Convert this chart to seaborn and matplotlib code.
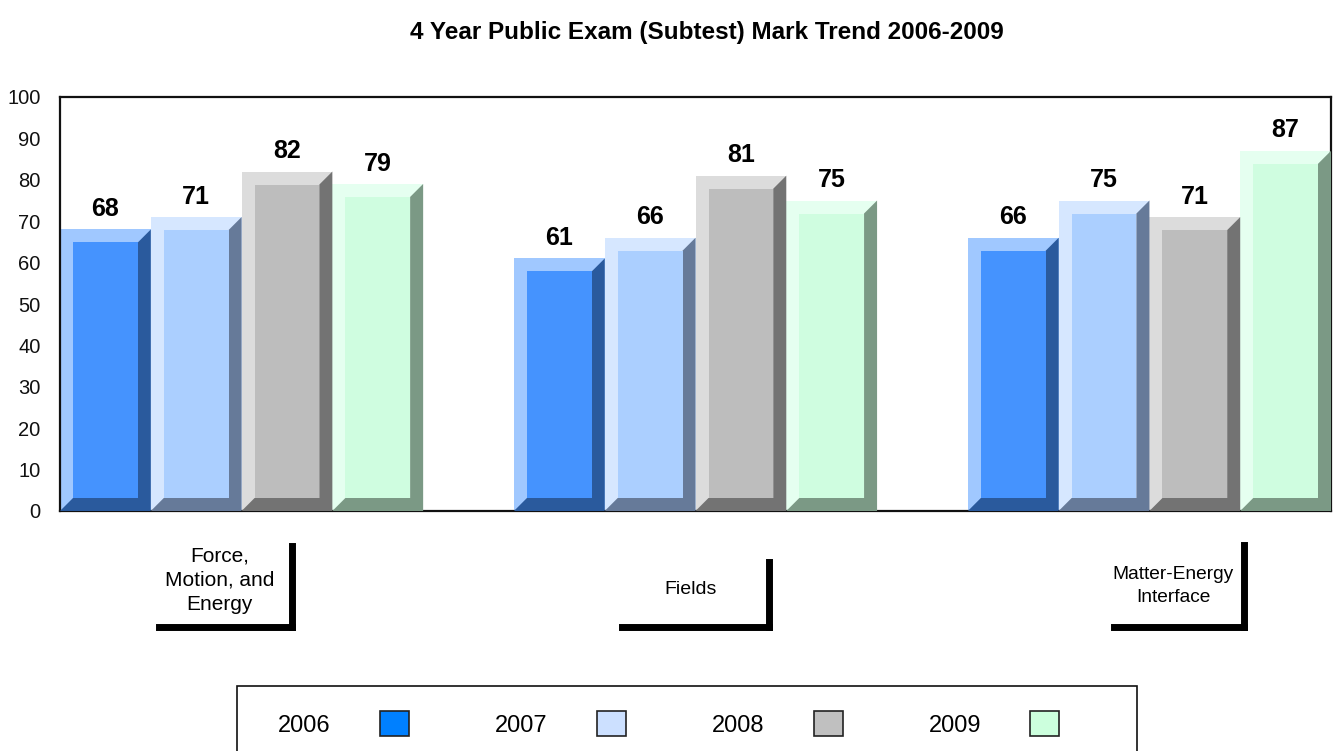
#exam mark trend by subtest, 2006-2009
import matplotlib
matplotlib.use("Agg")
import matplotlib.pyplot as plt
from matplotlib.patches import Polygon, Rectangle, Patch
from matplotlib.lines import Line2D
import matplotlib.transforms as mtransforms
import seaborn as sns
import pandas as pd

#data
categories = ["Force,\nMotion, and\nEnergy", "Fields", "Matter-Energy\nInterface"]
years = ["2006", "2007", "2008", "2009"]
marks_2006 = [68, 61, 66]
marks_2007 = [71, 66, 75]
marks_2008 = [82, 81, 71]
marks_2009 = [79, 75, 87]
yticks = [0, 10, 20, 30, 40, 50, 60, 70, 80, 90, 100]

#colours per year: front face, light bevel, dark bevel, legend swatch
front = ["#4593fe", "#abcfff", "#bdbdbd", "#cffde0"]
light = ["#a0c8ff", "#d6e7ff", "#dcdcdc", "#e5fff0"]
dark = ["#2a5a9d", "#667a99", "#737373", "#7b9985"]
swatch = ["#0080ff", "#cce0ff", "#c0c0c0", "#ccffdd"]

rows = []
for year, marks in zip(years, [marks_2006, marks_2007, marks_2008, marks_2009]):
    for cat, m in zip(categories, marks):
        rows.append({"category": cat, "year": year, "mark": m})
df = pd.DataFrame(rows)

sns.set_style("white")
plt.rcParams["font.family"] = ["Liberation Sans", "DejaVu Sans"]

W, H = 1341, 751
fig = plt.figure(figsize=(W / 100, H / 100), dpi=100)
ax = fig.add_axes([60 / W, 1 - 511 / H, 1271 / W, 414 / H])

sns.barplot(data=df, x="category", y="mark", hue="year", order=categories,
            hue_order=years, palette=light, width=0.8, gap=0, saturation=1,
            legend=False, linewidth=0, ax=ax)
ax.set_xlim(-0.4, 2.4)
ax.set_ylim(0, 100)

#bevel: dark right/bottom faces and an inset front face
px_x = 2.8 / 1271
px_y = 100 / 414
dx, dy = 13 * px_x, 13 * px_y
for i, cont in enumerate(ax.containers):
    for bar in cont:
        x0 = bar.get_x()
        x1 = x0 + bar.get_width()
        y1 = bar.get_height()
        ax.add_patch(Polygon([(x0, 0), (x1, 0), (x1, y1), (x1 - dx, y1 - dy),
                              (x1 - dx, dy), (x0 + dx, dy)],
                             closed=True, facecolor=dark[i], linewidth=0, zorder=3))
        ax.add_patch(Rectangle((x0 + dx, dy), x1 - x0 - 2 * dx, y1 - 2 * dy,
                               facecolor=front[i], linewidth=0, zorder=3))
    ax.bar_label(cont, padding=6, fontsize=18, fontweight="bold", color="black")

ax.set_yticks(yticks)
ax.tick_params(axis="y", length=0, pad=14, labelsize=14.5, labelcolor="#111111")
ax.set_xticks([])
ax.set_xlabel("")
ax.set_ylabel("")
for s in ax.spines.values():
    s.set_visible(True)
    s.set_color("#111111")
    s.set_linewidth(1.6)

#category labels with L-shaped brackets
trans = mtransforms.blended_transform_factory(ax.transData, fig.transFigure)
label_dx = [-0.048, -0.011, 0.053]
label_y = [580, 590, 586]
label_size = [15, 14, 13.8]
label_spacing = [1.35, 1.2, 1.45]
vline_dx = [0.110, 0.161, 0.209]
vline_top = [546, 562, 545]
hline_left = [-0.183, -0.161, -0.079]
line_y = 627
for k, cat in enumerate(categories):
    ax.text(k + label_dx[k], 1 - label_y[k] / H, cat, transform=trans,
            ha="center", va="center", fontsize=label_size[k],
            linespacing=label_spacing[k], color="black")
    ax.add_line(Line2D([k + vline_dx[k]] * 2, [1 - vline_top[k] / H, 1 - line_y / H],
                       transform=trans, color="black", linewidth=5,
                       solid_capstyle="projecting", clip_on=False))
    ax.add_line(Line2D([k + hline_left[k], k + vline_dx[k]], [1 - line_y / H] * 2,
                       transform=trans, color="black", linewidth=5,
                       solid_capstyle="projecting", clip_on=False))

#title
fig.text(707 / W, 1 - 32 / H, "4 Year Public Exam (Subtest) Mark Trend 2006-2009",
         ha="center", va="center", fontsize=17.5, fontweight="bold", color="black")

#legend: text first, swatch after, inside a box running off the bottom
handles = [Patch(facecolor=c, edgecolor="#222222", linewidth=1.2) for c in swatch]
leg = fig.legend(handles, years, loc="center left", bbox_to_anchor=(278 / W, 1 - 724 / H),
                 bbox_transform=fig.transFigure, ncol=4, frameon=False, markerfirst=False,
                 fontsize=17, handlelength=1.23, handleheight=1.2, handletextpad=2.08,
                 columnspacing=3.65, borderpad=0, borderaxespad=0)
for t in leg.get_texts():
    t.set_color("black")
fig.patches.append(Rectangle((237 / W, 1 - 770 / H), 900 / W, 84 / H,
                             transform=fig.transFigure, fill=False,
                             edgecolor="#111111", linewidth=1.2))

fig.savefig("out.png", dpi=100)
